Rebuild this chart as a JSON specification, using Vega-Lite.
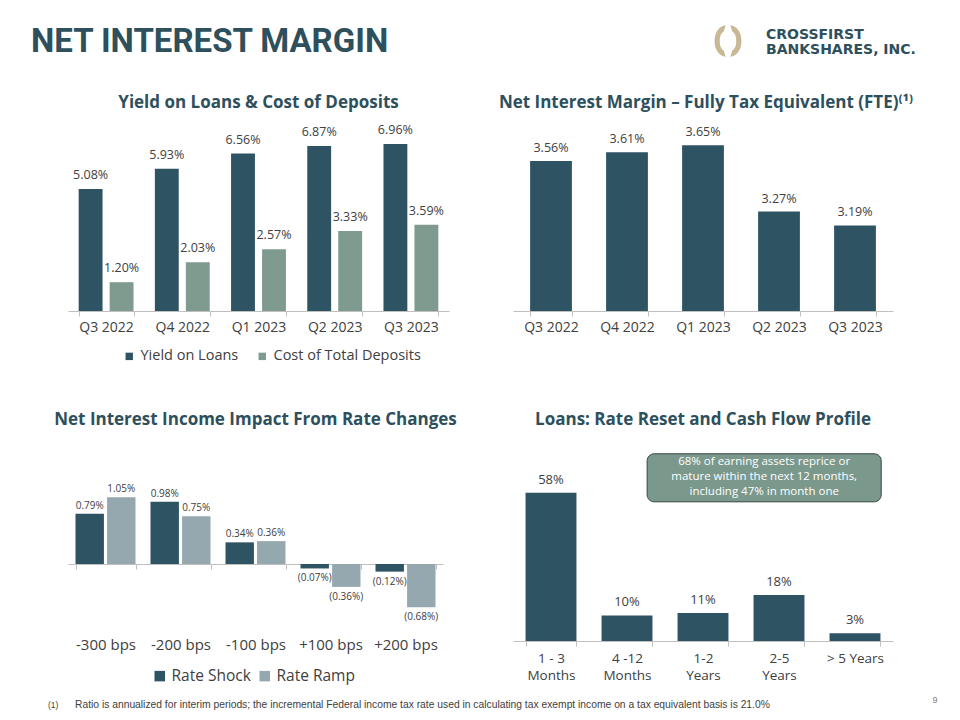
{
  "$schema": "https://vega.github.io/schema/vega-lite/v6.json",
  "padding": 0,
  "background": "white",
  "columns": 2,
  "bounds": "flush",
  "spacing": {"row": 141, "column": 64},
  "resolve": {"scale": {"color": "independent", "xOffset": "independent"}, "legend": {"color": "independent"}},
  "config": {
    "view": {"stroke": null},
    "font": "Open Sans",
    "title": {"font": "Open Sans", "fontSize": 17, "fontWeight": "bold", "color": "#2E4F5C", "anchor": "middle", "frame": "group"},
    "axis": {"grid": false, "labelFont": "Open Sans", "labelColor": "#404040", "domainColor": "#BFBFBF", "tickColor": "#BFBFBF", "title": null},
    "legend": {"labelFont": "Open Sans", "labelColor": "#404040", "title": null}
  },
  "concat": [
    {
      "width": 381,
      "height": 192,
      "resolve": {"scale": {"x": "independent", "y": "independent"}, "axis": {"x": "independent", "y": "independent"}},
      "layer": [
        {
          "data": {"values": [
            {"quarter": "Q3 2022", "series": "Yield on Loans", "value": 5.08, "label": "5.08%"},
            {"quarter": "Q3 2022", "series": "Cost of Total Deposits", "value": 1.20, "label": "1.20%"},
            {"quarter": "Q4 2022", "series": "Yield on Loans", "value": 5.93, "label": "5.93%"},
            {"quarter": "Q4 2022", "series": "Cost of Total Deposits", "value": 2.03, "label": "2.03%"},
            {"quarter": "Q1 2023", "series": "Yield on Loans", "value": 6.56, "label": "6.56%"},
            {"quarter": "Q1 2023", "series": "Cost of Total Deposits", "value": 2.57, "label": "2.57%"},
            {"quarter": "Q2 2023", "series": "Yield on Loans", "value": 6.87, "label": "6.87%"},
            {"quarter": "Q2 2023", "series": "Cost of Total Deposits", "value": 3.33, "label": "3.33%"},
            {"quarter": "Q3 2023", "series": "Yield on Loans", "value": 6.96, "label": "6.96%"},
            {"quarter": "Q3 2023", "series": "Cost of Total Deposits", "value": 3.59, "label": "3.59%"}
          ]},
          "encoding": {
            "x": {"field": "quarter", "type": "nominal", "sort": null, "scale": {"paddingInner": 0.28, "paddingOuter": 0.14},
                  "axis": {"labelAngle": 0, "labelFontSize": 14, "tickBand": "extent", "tickSize": 5, "labelPadding": 4}},
            "xOffset": {"field": "series", "type": "nominal", "sort": ["Yield on Loans", "Cost of Total Deposits"], "scale": {"paddingInner": 0.23}},
            "y": {"field": "value", "type": "quantitative", "scale": {"domain": [0, 8], "nice": false}, "axis": null}
          },
          "layer": [
            {
              "mark": "bar",
              "encoding": {
                "color": {"field": "series", "type": "nominal", "sort": ["Yield on Loans", "Cost of Total Deposits"],
                          "scale": {"domain": ["Yield on Loans", "Cost of Total Deposits"], "range": ["#2E5363", "#7F9B90"]},
                          "legend": {"orient": "none", "legendX": 54, "legendY": 230, "direction": "horizontal", "symbolType": "square", "symbolSize": 55, "labelFontSize": 14.5, "columnPadding": 16}}
              }
            },
            {
              "mark": {"type": "text", "baseline": "bottom", "dy": -7, "fontSize": 12.5, "color": "#404040"},
              "encoding": {"text": {"field": "label"}}
            }
          ]
        },
        {
          "data": {"values": [{}]},
          "layer": [
            {
              "mark": {"type": "rect", "opacity": 0},
              "encoding": {
                "x": {"datum": 0, "type": "quantitative", "scale": {"domain": [68, 449], "nice": false, "zero": false}, "axis": null},
                "x2": {"datum": 960},
                "y": {"datum": 0, "type": "quantitative", "scale": {"domain": [119, 311], "nice": false, "zero": false, "reverse": true}, "axis": null},
                "y2": {"datum": 720}
              }
            },
            {
              "mark": {"type": "text", "align": "left", "baseline": "alphabetic", "font": "Roboto", "fontSize": 33, "fontWeight": "bold", "color": "#2E4F5C"},
              "encoding": {
                "x": {"datum": 31, "type": "quantitative"},
                "y": {"datum": 52, "type": "quantitative"},
                "text": {"value": "NET INTEREST MARGIN"}
              }
            },
            {
              "mark": {"type": "text", "align": "center", "baseline": "middle", "font": "Open Sans", "fontSize": 17, "fontWeight": "bold", "color": "#2E4F5C"},
              "encoding": {
                "x": {"datum": 258.5, "type": "quantitative"},
                "y": {"datum": 103, "type": "quantitative"},
                "text": {"value": "Yield on Loans & Cost of Deposits"}
              }
            }
          ]
        }
      ]
    },
    {
      "width": 380,
      "height": 192,
      "resolve": {"scale": {"x": "independent", "y": "independent"}, "axis": {"x": "independent", "y": "independent"}},
      "layer": [
        {
          "data": {"values": [
            {"quarter": "Q3 2022", "value": 3.56, "label": "3.56%"},
            {"quarter": "Q4 2022", "value": 3.61, "label": "3.61%"},
            {"quarter": "Q1 2023", "value": 3.65, "label": "3.65%"},
            {"quarter": "Q2 2023", "value": 3.27, "label": "3.27%"},
            {"quarter": "Q3 2023", "value": 3.19, "label": "3.19%"}
          ]},
          "encoding": {
            "x": {"field": "quarter", "type": "nominal", "sort": null, "scale": {"paddingInner": 0.45, "paddingOuter": 0.225},
                  "axis": {"labelAngle": 0, "labelFontSize": 14, "tickBand": "extent", "tickSize": 5, "labelPadding": 4}},
            "y": {"field": "value", "type": "quantitative", "scale": {"domain": [2.7, 3.8], "zero": false, "nice": false}, "axis": null}
          },
          "layer": [
            {
              "mark": {"type": "bar", "color": "#2E5363"},
              "encoding": {"y2": {"datum": 2.7}}
            },
            {
              "mark": {"type": "text", "baseline": "bottom", "dy": -6, "fontSize": 12.5, "color": "#404040"},
              "encoding": {"text": {"field": "label"}}
            }
          ]
        },
        {
          "data": {"values": [{}]},
          "layer": [
            {
              "mark": {"type": "point", "filled": true, "opacity": 1, "color": "#C8B896", "size": 1000, "shape": "M -0.15 -1 C -0.6 -0.95 -0.85 -0.5 -0.85 0 C -0.85 0.5 -0.6 0.95 -0.15 1 L -0.27 0.6 C -0.47 0.48 -0.52 0.25 -0.52 0 C -0.52 -0.25 -0.47 -0.48 -0.27 -0.6 Z M 0.15 -1 C 0.6 -0.95 0.85 -0.5 0.85 0 C 0.85 0.5 0.6 0.95 0.15 1 L 0.27 0.6 C 0.47 0.48 0.52 0.25 0.52 0 C 0.52 -0.25 0.47 -0.48 0.27 -0.6 Z"},
              "encoding": {
                "x": {"datum": 728, "type": "quantitative", "scale": {"domain": [513, 893], "nice": false, "zero": false}, "axis": null},
                "y": {"datum": 41, "type": "quantitative", "scale": {"domain": [119, 311], "nice": false, "zero": false, "reverse": true}, "axis": null}
              }
            },
            {
              "mark": {"type": "text", "align": "left", "baseline": "alphabetic", "font": "DejaVu Sans", "fontSize": 14, "fontWeight": "bold", "color": "#2E4F5C"},
              "encoding": {
                "x": {"datum": 766, "type": "quantitative"},
                "y": {"datum": 39, "type": "quantitative"},
                "text": {"value": "CROSSFIRST"}
              }
            },
            {
              "mark": {"type": "text", "align": "left", "baseline": "alphabetic", "font": "DejaVu Sans", "fontSize": 14, "fontWeight": "bold", "color": "#2E4F5C"},
              "encoding": {
                "x": {"datum": 766, "type": "quantitative"},
                "y": {"datum": 54, "type": "quantitative"},
                "text": {"value": "BANKSHARES, INC."}
              }
            },
            {
              "mark": {"type": "text", "align": "center", "baseline": "middle", "font": "Open Sans", "fontSize": 17, "fontWeight": "bold", "color": "#2E4F5C"},
              "encoding": {
                "x": {"datum": 706, "type": "quantitative"},
                "y": {"datum": 103, "type": "quantitative"},
                "text": {"value": "Net Interest Margin – Fully Tax Equivalent (FTE)⁽¹⁾"}
              }
            }
          ]
        }
      ]
    },
    {
      "width": 375,
      "height": 189,
      "title": {"text": "Net Interest Income Impact From Rate Changes", "offset": 23, "frame": "group"},
      "resolve": {"scale": {"x": "independent", "y": "independent"}, "axis": {"x": "independent", "y": "independent"}},
      "layer": [
        {
          "data": {"values": [
            {"scenario": "-300 bps", "type": "Rate Shock", "value": 0.79, "label": "0.79%"},
            {"scenario": "-300 bps", "type": "Rate Ramp", "value": 1.05, "label": "1.05%"},
            {"scenario": "-200 bps", "type": "Rate Shock", "value": 0.98, "label": "0.98%"},
            {"scenario": "-200 bps", "type": "Rate Ramp", "value": 0.75, "label": "0.75%"},
            {"scenario": "-100 bps", "type": "Rate Shock", "value": 0.34, "label": "0.34%"},
            {"scenario": "-100 bps", "type": "Rate Ramp", "value": 0.36, "label": "0.36%"},
            {"scenario": "+100 bps", "type": "Rate Shock", "value": -0.07, "label": "(0.07%)"},
            {"scenario": "+100 bps", "type": "Rate Ramp", "value": -0.36, "label": "(0.36%)"},
            {"scenario": "+200 bps", "type": "Rate Shock", "value": -0.12, "label": "(0.12%)"},
            {"scenario": "+200 bps", "type": "Rate Ramp", "value": -0.68, "label": "(0.68%)"}
          ]},
          "encoding": {
            "x": {"field": "scenario", "type": "nominal", "sort": null, "scale": {"paddingInner": 0.2, "paddingOuter": 0.1},
                  "axis": {"labelAngle": 0, "labelFontSize": 15, "tickBand": "extent", "tickSize": 5, "offset": -77, "labelPadding": 68}},
            "xOffset": {"field": "type", "type": "nominal", "sort": ["Rate Shock", "Rate Ramp"], "scale": {"paddingInner": 0.1}},
            "y": {"field": "value", "type": "quantitative", "scale": {"domain": [-1.21, 1.76], "nice": false}, "axis": null}
          },
          "layer": [
            {
              "mark": "bar",
              "encoding": {
                "color": {"field": "type", "type": "nominal", "sort": ["Rate Shock", "Rate Ramp"],
                          "scale": {"domain": ["Rate Shock", "Rate Ramp"], "range": ["#2E5363", "#95A8B0"]},
                          "legend": {"orient": "none", "legendX": 84, "legendY": 216, "direction": "horizontal", "symbolType": "square", "symbolSize": 110, "labelFontSize": 15.5, "columnPadding": 6}}
              }
            },
            {
              "transform": [{"filter": "datum.value >= 0"}],
              "mark": {"type": "text", "baseline": "bottom", "dy": -3, "fontSize": 10, "color": "#404040"},
              "encoding": {"text": {"field": "label"}}
            },
            {
              "transform": [{"filter": "datum.value < 0"}],
              "mark": {"type": "text", "baseline": "top", "dy": 5, "fontSize": 10, "color": "#404040"},
              "encoding": {"text": {"field": "label"}}
            }
          ]
        },
        {
          "data": {"values": [{}]},
          "layer": [
            {
              "mark": {"type": "text", "align": "left", "baseline": "middle", "font": "Liberation Sans", "fontSize": 8.5, "color": "#404040"},
              "encoding": {
                "x": {"datum": 48, "type": "quantitative", "scale": {"domain": [68, 443], "nice": false, "zero": false}, "axis": null},
                "y": {"datum": 705, "type": "quantitative", "scale": {"domain": [452, 641], "nice": false, "zero": false, "reverse": true}, "axis": null},
                "text": {"value": "(1)"}
              }
            },
            {
              "mark": {"type": "text", "align": "left", "baseline": "middle", "font": "Liberation Sans", "fontSize": 10.3, "color": "#404040"},
              "encoding": {
                "x": {"datum": 75, "type": "quantitative"},
                "y": {"datum": 705, "type": "quantitative"},
                "text": {"value": "Ratio is annualized  for interim periods; the incremental  Federal income tax rate used in calculating  tax exempt income on a tax equivalent  basis is 21.0%"}
              }
            }
          ]
        }
      ]
    },
    {
      "width": 380,
      "height": 189,
      "title": {"text": "Loans: Rate Reset and Cash Flow Profile", "offset": 23, "frame": "group"},
      "resolve": {"scale": {"x": "independent", "y": "independent"}, "axis": {"x": "independent", "y": "independent"}},
      "layer": [
        {
          "data": {"values": [
            {"bucket": "1 - 3|Months", "value": 58, "label": "58%"},
            {"bucket": "4 -12|Months", "value": 10, "label": "10%"},
            {"bucket": "1-2|Years", "value": 11, "label": "11%"},
            {"bucket": "2-5|Years", "value": 18, "label": "18%"},
            {"bucket": "> 5 Years", "value": 3, "label": "3%"}
          ]},
          "encoding": {
            "x": {"field": "bucket", "type": "nominal", "sort": null, "scale": {"paddingInner": 0.33, "paddingOuter": 0.165},
                  "axis": {"labelAngle": 0, "labelFontSize": 13.5, "tickBand": "extent", "tickSize": 5, "labelPadding": 5, "labelLineHeight": 17, "labelExpr": "split(datum.label, '|')"}},
            "y": {"field": "value", "type": "quantitative", "scale": {"domain": [0, 74], "nice": false}, "axis": null}
          },
          "layer": [
            {"mark": {"type": "bar", "color": "#2E5363"}},
            {
              "mark": {"type": "text", "baseline": "bottom", "dy": -6, "fontSize": 13, "color": "#404040"},
              "encoding": {"text": {"field": "label"}}
            }
          ]
        },
        {
          "data": {"values": [{"note": "68% of earning assets reprice or\nmature within the next 12 months,\nincluding 47% in month one"}]},
          "layer": [
            {
              "mark": {"type": "rect", "fill": "#7B988C", "stroke": "#33463F", "strokeWidth": 1, "cornerRadius": 7},
              "encoding": {
                "x": {"datum": 0.353, "type": "quantitative", "scale": {"domain": [0, 1], "nice": false}, "axis": null},
                "x2": {"datum": 0.969},
                "y": {"datum": 54.5, "type": "quantitative", "scale": {"domain": [0, 74], "nice": false}, "axis": null},
                "y2": {"datum": 73.3}
              }
            },
            {
              "mark": {"type": "text", "color": "white", "fontSize": 11.5, "lineBreak": "\n", "lineHeight": 15, "baseline": "middle", "align": "center"},
              "encoding": {
                "x": {"datum": 0.661, "type": "quantitative"},
                "y": {"datum": 70.0, "type": "quantitative"},
                "text": {"field": "note"}
              }
            }
          ]
        },
        {
          "data": {"values": [{}]},
          "mark": {"type": "text", "align": "center", "baseline": "middle", "font": "Liberation Sans", "fontSize": 9, "color": "#808080"},
          "encoding": {
            "x": {"datum": 935, "type": "quantitative", "scale": {"domain": [513, 893], "nice": false, "zero": false}, "axis": null},
            "y": {"datum": 700, "type": "quantitative", "scale": {"domain": [452, 641], "nice": false, "zero": false, "reverse": true}, "axis": null},
            "text": {"value": "9"}
          }
        }
      ]
    }
  ]
}
